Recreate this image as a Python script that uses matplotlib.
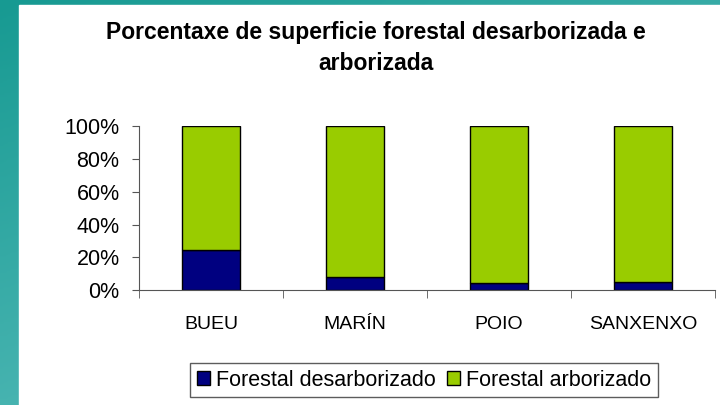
import numpy as np
import matplotlib.pyplot as plt
from matplotlib.colors import LinearSegmentedColormap
from matplotlib.patches import Rectangle

# datos (porcentaxes)
concellos = ["BUEU", "MARÍN", "POIO", "SANXENXO"]
desarborizado = [24.3, 8.1, 4.1, 5.1]
arborizado = [100 - v for v in desarborizado]
yticks = [0, 20, 40, 60, 80, 100]

W, H = 720, 405
fig = plt.figure(figsize=(W / 100, H / 100), dpi=100)

# fondo teal con degradado
bg = fig.add_axes([0, 0, 1, 1], zorder=-10)
gx, gy = np.meshgrid(np.linspace(0, 1, 200), np.linspace(0, 1, 200))
grad = 0.6 * gy + 0.4 * gx
bg.imshow(grad, cmap=LinearSegmentedColormap.from_list("teal", ["#179a92", "#66c4c4"]),
          extent=[0, 1, 0, 1], origin="upper", aspect="auto")
bg.add_patch(Rectangle((19 / W, 0), 1, 1 - 5 / H, color="white"))
bg.set_xlim(0, 1)
bg.set_ylim(0, 1)
bg.axis("off")

ax = fig.add_axes([139 / W, 1 - 290 / H, (715 - 139) / W, (290 - 126.5) / H])
x = np.arange(len(concellos))
ax.bar(x, desarborizado, width=0.4, color="#000080", edgecolor="black", linewidth=1,
       label="Forestal desarborizado")
ax.bar(x, arborizado, width=0.4, bottom=desarborizado, color="#99CC00", edgecolor="black",
       linewidth=1, label="Forestal arborizado")

ax.set_xlim(-0.5, len(concellos) - 0.5)
ax.set_ylim(0, 100)
ax.set_yticks(yticks)
ax.set_yticklabels([f"{t}%" for t in yticks], family="Liberation Sans", fontsize=15.5)
ax.set_xticks(x)
ax.set_xticklabels(concellos, family="Liberation Sans", fontsize=14)
ax.set_xticks(np.arange(len(concellos) + 1) - 0.5, minor=True)
ax.tick_params(axis="x", which="major", length=0, pad=19)
ax.tick_params(axis="x", which="minor", length=6, color="#555555", direction="out")
ax.tick_params(axis="y", length=5, color="#555555", pad=9)
for s in ["top", "right"]:
    ax.spines[s].set_visible(False)
ax.spines["left"].set_color("#555555")
ax.spines["bottom"].set_color("#555555")

fig.text(376 / W, 1 - 48 / H, "Porcentaxe de superficie forestal desarborizada e\narborizada",
         ha="center", va="center", fontsize=16.5, fontweight="bold", family="Liberation Sans",
         linespacing=1.5)

leg = fig.legend(loc="center", bbox_to_anchor=(424 / W, 1 - 380 / H), ncol=2,
                 prop={"family": "Liberation Sans", "size": 15.5}, frameon=True, fancybox=False,
                 edgecolor="#333333", handlelength=0.6, handleheight=0.6, handletextpad=0.3,
                 columnspacing=0.5, borderpad=0.3, borderaxespad=0)
leg.get_frame().set_linewidth(1)

fig.savefig("out.png", dpi=100)
